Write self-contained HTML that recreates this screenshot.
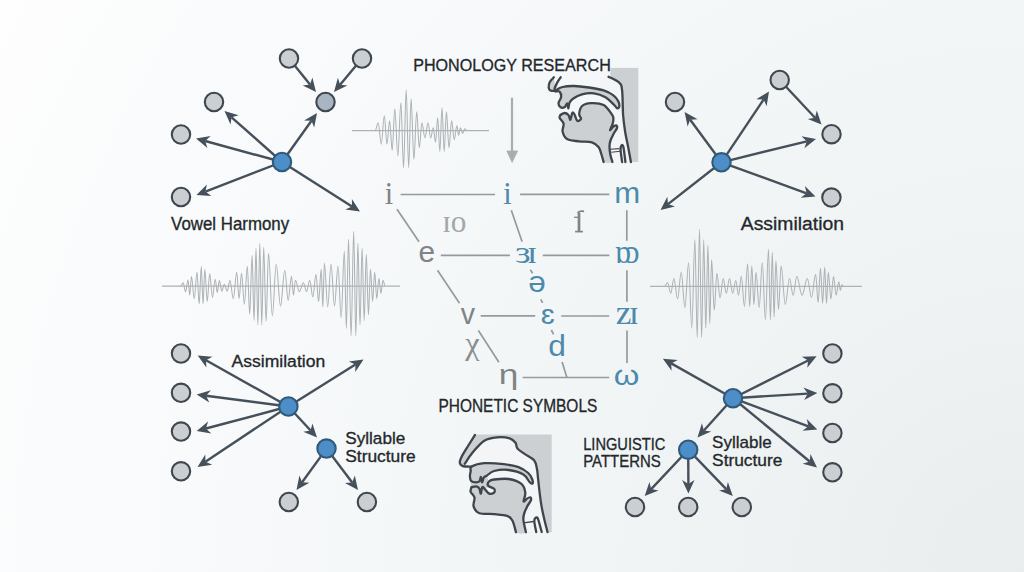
<!DOCTYPE html>
<html><head><meta charset="utf-8"><style>
html,body{margin:0;padding:0;width:1024px;height:572px;overflow:hidden}
body{background:radial-gradient(circle at 100% 100%,#e9edee 0px,#eef2f3 260px,#f3f6f7 540px,#f8fafb 860px,#fefefe 1180px)}
svg{position:absolute;left:0;top:0}
</style></head><body>
<svg width="1024" height="572" viewBox="0 0 1024 572">
<path d="M475.0,434.9 L468.0,446.0 L462.0,456.0 L459.8,462.5 L462.8,466.1 L471.6,466.6 L471.6,474.0 L470.0,480.0 L471.6,487.2 L471.6,487.2 L470.6,491.7 L474.5,497.5 L473.6,506.3 L479.4,513.2 L494.1,514.1 L507.7,516.1 L512.6,521.0 L516.0,532.2 L551.7,532.2 L551.7,434.4 L475.0,434.4 Z" fill="#ccd0d2"/>
<path d="M464.8,463.7 C465.0,461.3 469.4,456.3 472.6,452.5 C475.9,448.7 480.2,443.2 484.3,440.7 C488.4,438.2 492.8,437.7 497.0,437.3 C501.2,436.9 506.6,437.4 509.7,438.3 C512.8,439.2 514.2,441.0 515.5,442.7 C516.8,444.4 515.9,446.7 517.5,448.6 C519.1,450.6 522.5,452.4 525.3,454.4 C528.1,456.3 532.1,457.9 534.1,460.3 C536.1,462.8 536.4,466.2 537.0,469.1 C537.6,472.1 537.4,472.4 538.0,478.0 C538.6,483.6 539.9,495.7 540.9,502.4 C541.9,509.1 542.9,513.0 544.0,518.0 C545.1,523.0 550.6,529.8 547.6,532.2 C544.6,534.6 529.5,532.2 525.9,532.2 C522.3,532.2 526.3,534.2 525.9,532.2 C525.5,530.2 523.7,523.2 523.4,520.0 C523.1,516.8 523.6,515.5 524.3,513.2 C524.9,510.9 526.2,508.5 527.3,506.3 C528.4,504.1 530.4,501.8 530.9,500.3 C531.4,498.8 530.9,497.6 530.2,497.3 C529.6,497.0 528.1,497.9 527.0,498.6 C525.9,499.3 523.9,502.5 523.6,501.5 C523.3,500.5 525.7,495.5 525.3,492.6 C524.9,489.7 524.2,486.2 521.4,483.9 C518.6,481.6 513.2,479.7 508.7,479.0 C504.1,478.3 497.4,479.1 494.1,479.5 C490.8,479.9 490.4,482.1 489.0,481.5 C487.6,480.9 488.9,478.5 486.0,476.0 C483.1,473.5 475.1,468.7 471.6,466.6 C468.1,464.6 464.6,466.1 464.8,463.7 Z" fill="#f3f5f6"/>
<path d="M471.6,466.6 C473.9,465.3 478.9,463.6 484.3,463.2 C489.7,462.8 498.1,463.5 503.8,464.2 C509.5,464.9 514.4,465.6 518.5,467.1 C522.6,468.6 525.9,471.0 528.2,473.0 C530.5,475.0 531.4,477.2 532.1,479.0 C532.8,480.8 532.9,483.0 532.5,483.5 C532.1,484.0 531.0,483.5 529.5,482.0 C528.0,480.5 526.9,476.5 523.4,474.5 C519.9,472.5 513.6,470.6 508.7,470.0 C503.8,469.4 497.7,470.1 494.1,471.0 C490.5,471.9 488.7,474.4 487.0,475.5 C485.3,476.6 484.6,476.4 483.8,477.5 C483.0,478.6 482.6,482.5 482.1,482.4 C481.6,482.3 481.3,477.2 480.9,477.0 C480.5,476.8 480.3,480.3 479.5,481.2 C478.7,482.1 477.4,482.3 476.0,482.3 C474.6,482.3 472.2,482.0 471.2,481.0 C470.2,480.0 470.0,478.2 469.9,476.5 C469.8,474.8 470.4,472.6 470.7,471.0 C471.0,469.4 469.3,467.9 471.6,466.6 Z" fill="#ccd0d2" stroke="#3e454c" stroke-width="2.3" stroke-linejoin="round"/>
<path d="M471.6,487.2 C472.4,487.1 475.2,486.1 476.5,486.3 C477.8,486.6 478.7,487.5 479.4,488.7 C480.1,489.9 480.4,493.9 480.9,493.6 C481.4,493.3 481.6,487.6 482.3,487.0 C483.0,486.4 484.2,488.6 485.3,489.7 C486.4,490.8 487.7,493.1 489.2,493.6 C490.7,494.1 493.3,493.4 494.1,492.6 C494.9,491.8 495.1,489.8 494.1,488.7 C493.1,487.6 489.1,487.0 488.2,485.8 C487.3,484.6 488.0,482.6 489.0,481.5 C490.0,480.4 490.8,479.9 494.1,479.5 C497.4,479.1 504.1,478.3 508.7,479.0 C513.2,479.7 518.6,481.6 521.4,483.9 C524.2,486.2 524.9,489.7 525.3,492.6 C525.7,495.5 523.3,500.5 523.6,501.5 C523.9,502.5 525.9,499.3 527.0,498.6 C528.1,497.9 529.6,497.0 530.2,497.3 C530.9,497.6 531.4,498.8 530.9,500.3 C530.4,501.8 528.4,504.1 527.3,506.3 C526.2,508.5 524.9,510.9 524.3,513.2 C523.6,515.5 523.1,516.8 523.4,520.0 C523.7,523.2 527.1,530.2 525.9,532.2 C524.7,534.2 518.2,534.1 516.0,532.2 C513.8,530.3 514.0,523.7 512.6,521.0 C511.2,518.3 510.8,517.2 507.7,516.1 C504.6,515.0 498.8,514.6 494.1,514.1 C489.4,513.6 482.8,514.5 479.4,513.2 C476.0,511.9 474.4,508.9 473.6,506.3 C472.8,503.7 475.0,499.9 474.5,497.5 C474.0,495.1 471.1,493.4 470.6,491.7 C470.1,490.0 471.4,487.9 471.6,487.2 C471.8,486.4 470.8,487.3 471.6,487.2 Z" fill="#ccd0d2"/>
<path d="M486.3,489.5 C486.4,490.5 488.2,492.2 489.4,492.6 C490.6,493.0 492.7,492.2 493.3,491.6 C493.9,491.0 493.9,489.8 493.2,489.0 C492.4,488.2 489.9,486.7 488.8,486.8 C487.7,486.9 486.2,488.5 486.3,489.5 Z" fill="#f3f5f6"/>
<path d="M471.6,487.2 C472.4,487.1 475.2,486.1 476.5,486.3 C477.8,486.6 478.7,487.5 479.4,488.7 C480.1,489.9 480.4,493.9 480.9,493.6 C481.4,493.3 481.6,487.6 482.3,487.0 C483.0,486.4 484.2,488.6 485.3,489.7 C486.4,490.8 487.7,493.1 489.2,493.6 C490.7,494.1 493.3,493.4 494.1,492.6 C494.9,491.8 495.1,489.8 494.1,488.7 C493.1,487.6 489.1,487.0 488.2,485.8 C487.3,484.6 488.0,482.6 489.0,481.5 C490.0,480.4 490.8,479.9 494.1,479.5 C497.4,479.1 504.1,478.3 508.7,479.0 C513.2,479.7 518.6,481.6 521.4,483.9 C524.2,486.2 524.9,489.7 525.3,492.6 C525.7,495.5 523.3,500.5 523.6,501.5 C523.9,502.5 525.9,499.3 527.0,498.6 C528.1,497.9 529.6,497.0 530.2,497.3 C530.9,497.6 531.4,498.8 530.9,500.3 C530.4,501.8 528.4,504.1 527.3,506.3 C526.2,508.5 524.9,510.9 524.3,513.2 C523.6,515.5 523.1,516.8 523.4,520.0 C523.7,523.2 525.5,530.2 525.9,532.2" fill="none" stroke="#3e454c" stroke-width="2.3" stroke-linecap="round" stroke-linejoin="round"/>
<path d="M471.6,487.2 C471.4,487.9 470.1,490.0 470.6,491.7 C471.1,493.4 474.0,495.1 474.5,497.5 C475.0,499.9 472.8,503.7 473.6,506.3 C474.4,508.9 476.0,511.9 479.4,513.2 C482.8,514.5 489.4,513.6 494.1,514.1 C498.8,514.6 504.6,515.0 507.7,516.1 C510.8,517.2 511.2,518.3 512.6,521.0 C514.0,523.7 515.4,530.3 516.0,532.2" fill="none" stroke="#3e454c" stroke-width="2.3" stroke-linecap="round"/>
<path d="M475.0,434.9 C473.8,436.8 470.2,442.5 468.0,446.0 C465.8,449.5 463.4,453.2 462.0,456.0 C460.6,458.8 459.7,460.8 459.8,462.5 C459.9,464.2 460.8,465.4 462.8,466.1 C464.8,466.8 470.1,466.5 471.6,466.6" fill="none" stroke="#3e454c" stroke-width="2.3" stroke-linecap="round"/>
<path d="M464.8,463.7 C466.1,461.8 469.4,456.3 472.6,452.5 C475.9,448.7 480.2,443.2 484.3,440.7 C488.4,438.2 492.8,437.7 497.0,437.3 C501.2,436.9 506.6,437.4 509.7,438.3 C512.8,439.2 514.2,441.0 515.5,442.7 C516.8,444.4 515.9,446.7 517.5,448.6 C519.1,450.6 522.5,452.4 525.3,454.4 C528.1,456.3 532.1,457.9 534.1,460.3 C536.1,462.8 536.4,466.2 537.0,469.1 C537.6,472.1 537.4,472.4 538.0,478.0 C538.6,483.6 539.9,495.7 540.9,502.4 C541.9,509.1 542.9,513.0 544.0,518.0 C545.1,523.0 547.0,529.8 547.6,532.2" fill="none" stroke="#3e454c" stroke-width="2.3" stroke-linecap="round"/>
<path d="M523.6,522.9 L533.5,521.5" stroke="#3e454c" stroke-width="1.4" fill="none"/>
<path d="M536.2,532.0 C535.9,530.2 534.3,523.4 534.3,521.0 C534.2,518.6 535.3,517.9 535.9,517.6 C536.5,517.3 537.0,516.6 538.0,519.0 C539.0,521.4 541.1,529.8 541.7,532.0" fill="none" stroke="#3e454c" stroke-width="2.3" stroke-linecap="round"/>
<rect x="610.4" y="67.9" width="27.9" height="94.1" fill="#ccd0d2"/>
<path d="M608.5,76.7 L619.2,82.6 L622.1,90.4 L623.1,115.0 L625.1,131.5 L628.0,146.2 L630.9,162.0 L612.4,162.0 L612.4,162.0 L610.4,155.0 L609.5,146.2 L610.5,140.5 L613.5,134.0 L616.8,128.5 L616.5,125.5 L613.5,126.5 L610.0,130.0 L612.4,124.7 L613.4,117.9 L611.4,113.8 L603.6,105.0 L600.0,98.0 L600.0,76.7 Z" fill="#f3f5f6"/>
<path d="M555.0,91.0 C555.5,90.2 559.4,87.8 562.6,87.0 C565.8,86.2 569.9,85.9 574.3,86.0 C578.7,86.1 584.1,86.8 589.0,87.5 C593.9,88.2 599.5,89.1 603.6,90.4 C607.7,91.7 611.0,93.5 613.4,95.3 C615.8,97.1 617.2,99.3 618.2,101.1 C619.2,102.9 619.5,104.8 619.4,106.0 C619.2,107.2 618.3,108.6 617.3,108.3 C616.3,108.0 615.4,105.9 613.4,104.1 C611.4,102.2 608.7,99.0 605.5,97.2 C602.3,95.4 597.9,93.8 594.0,93.3 C590.1,92.8 585.5,93.4 582.0,94.3 C578.5,95.2 575.4,97.0 573.3,98.5 C571.2,100.0 570.2,101.4 569.4,103.0 C568.6,104.6 568.8,108.2 568.4,108.3 C568.0,108.4 567.9,103.7 567.3,103.5 C566.6,103.3 565.6,106.7 564.5,107.3 C563.4,107.9 561.6,108.0 560.6,107.3 C559.6,106.6 558.4,104.8 558.5,103.1 C558.6,101.4 560.9,99.1 561.1,97.2 C561.3,95.3 560.6,92.6 559.6,91.6 C558.6,90.6 554.5,91.8 555.0,91.0 Z" fill="#ccd0d2" stroke="#3e454c" stroke-width="2.3" stroke-linejoin="round"/>
<path d="M553.9,77.3 C553.2,78.1 550.7,80.3 549.8,82.0 C548.9,83.7 548.6,86.2 548.7,87.6 C548.8,89.0 549.3,89.8 550.4,90.4 C551.5,91.0 554.6,90.9 555.5,91.0 L560.7,77.3 C560.1,78.2 558.2,80.6 557.2,82.5 C556.2,84.4 554.9,87.2 554.6,88.6 C554.3,90.0 555.4,90.6 555.5,91.0 Z" fill="#ccd0d2"/>
<path d="M553.9,77.3 C553.2,78.1 550.7,80.3 549.8,82.0 C548.9,83.7 548.6,86.2 548.7,87.6 C548.8,89.0 549.3,89.8 550.4,90.4 C551.5,91.0 554.6,90.9 555.5,91.0" fill="none" stroke="#3e454c" stroke-width="2.3" stroke-linecap="round"/>
<path d="M560.7,77.3 C560.1,78.2 558.2,80.6 557.2,82.5 C556.2,84.4 554.9,87.2 554.6,88.6 C554.3,90.0 555.4,90.6 555.5,91.0" fill="none" stroke="#3e454c" stroke-width="2.3" stroke-linecap="round"/>
<path d="M560.6,114.9 C561.2,114.6 563.2,113.0 564.5,113.0 C565.8,113.0 567.4,113.8 568.4,114.9 C569.4,116.0 569.8,120.1 570.4,119.8 C571.0,119.5 571.6,114.0 572.3,113.0 C572.9,112.0 573.5,112.7 574.3,114.0 C575.1,115.3 576.1,120.0 577.2,120.8 C578.3,121.6 580.8,119.9 581.1,118.8 C581.4,117.7 579.0,116.1 579.2,114.0 C579.4,111.9 580.2,107.8 582.1,106.0 C584.0,104.2 587.3,103.3 590.9,103.1 C594.5,102.9 600.2,103.2 603.6,105.0 C607.0,106.8 609.8,111.6 611.4,113.8 C613.0,116.0 613.2,116.1 613.4,117.9 C613.6,119.7 613.0,122.7 612.4,124.7 C611.8,126.7 609.8,129.7 610.0,130.0 C610.2,130.3 612.4,127.2 613.5,126.5 C614.6,125.8 616.0,125.2 616.5,125.5 C617.0,125.8 617.3,127.1 616.8,128.5 C616.3,129.9 614.5,132.0 613.5,134.0 C612.5,136.0 611.2,138.5 610.5,140.5 C609.8,142.5 609.5,143.8 609.5,146.2 C609.5,148.6 609.9,152.4 610.4,155.0 C610.9,157.6 613.5,160.8 612.4,162.0 C611.3,163.2 605.4,163.2 603.6,162.0 C601.8,160.8 602.4,157.5 601.6,155.0 C600.8,152.5 600.3,149.3 598.7,147.2 C597.1,145.1 595.1,143.3 591.9,142.3 C588.6,141.3 583.3,141.8 579.2,141.3 C575.1,140.8 570.3,140.9 567.5,139.3 C564.7,137.7 563.2,134.1 562.6,131.5 C562.0,128.9 564.1,126.0 563.6,123.7 C563.1,121.4 560.1,119.4 559.6,117.9 C559.1,116.4 560.4,115.4 560.6,114.9 C560.8,114.4 560.0,115.2 560.6,114.9 Z" fill="#ccd0d2"/>
<path d="M575.3,115.0 C575.1,115.7 576.8,119.2 577.6,119.8 C578.5,120.4 580.2,119.3 580.4,118.6 C580.6,117.9 579.9,116.1 579.0,115.5 C578.1,114.9 575.5,114.3 575.3,115.0 Z" fill="#f3f5f6"/>
<path d="M560.6,114.9 C561.2,114.6 563.2,113.0 564.5,113.0 C565.8,113.0 567.4,113.8 568.4,114.9 C569.4,116.0 569.8,120.1 570.4,119.8 C571.0,119.5 571.6,114.0 572.3,113.0 C572.9,112.0 573.5,112.7 574.3,114.0 C575.1,115.3 576.1,120.0 577.2,120.8 C578.3,121.6 580.8,119.9 581.1,118.8 C581.4,117.7 579.0,116.1 579.2,114.0 C579.4,111.9 580.2,107.8 582.1,106.0 C584.0,104.2 587.3,103.3 590.9,103.1 C594.5,102.9 600.2,103.2 603.6,105.0 C607.0,106.8 609.8,111.6 611.4,113.8 C613.0,116.0 613.2,116.1 613.4,117.9 C613.6,119.7 613.0,122.7 612.4,124.7 C611.8,126.7 609.8,129.7 610.0,130.0 C610.2,130.3 612.4,127.2 613.5,126.5 C614.6,125.8 616.0,125.2 616.5,125.5 C617.0,125.8 617.3,127.1 616.8,128.5 C616.3,129.9 614.5,132.0 613.5,134.0 C612.5,136.0 611.2,138.5 610.5,140.5 C609.8,142.5 609.5,143.8 609.5,146.2 C609.5,148.6 609.9,152.4 610.4,155.0 C610.9,157.6 612.1,160.8 612.4,162.0" fill="none" stroke="#3e454c" stroke-width="2.3" stroke-linecap="round" stroke-linejoin="round"/>
<path d="M560.6,114.9 C560.4,115.4 559.1,116.4 559.6,117.9 C560.1,119.4 563.1,121.4 563.6,123.7 C564.1,126.0 562.0,128.9 562.6,131.5 C563.2,134.1 564.7,137.7 567.5,139.3 C570.3,140.9 575.1,140.8 579.2,141.3 C583.3,141.8 588.6,141.3 591.9,142.3 C595.1,143.3 597.1,145.1 598.7,147.2 C600.3,149.3 600.8,152.5 601.6,155.0 C602.4,157.5 603.3,160.8 603.6,162.0" fill="none" stroke="#3e454c" stroke-width="2.3" stroke-linecap="round"/>
<path d="M608.5,76.7 C610.3,77.7 616.9,80.3 619.2,82.6 C621.5,84.9 621.5,85.0 622.1,90.4 C622.8,95.8 622.6,108.2 623.1,115.0 C623.6,121.8 624.3,126.3 625.1,131.5 C625.9,136.7 627.0,141.1 628.0,146.2 C629.0,151.3 630.4,159.4 630.9,162.0" fill="none" stroke="#3e454c" stroke-width="2.3" stroke-linecap="round"/>
<path d="M610.6,149.3 L619.4,148.6 M611.4,152.2 L620.2,151.2" stroke="#3e454c" stroke-width="1.1" fill="none"/>
<path d="M622.1,162.0 C621.9,160.0 620.7,152.8 620.6,150.0 C620.5,147.2 621.1,145.9 621.6,145.4 C622.1,144.9 622.8,144.2 623.4,147.0 C624.0,149.8 625.1,159.5 625.4,162.0" fill="none" stroke="#3e454c" stroke-width="2.3" stroke-linecap="round"/>
<line x1="352" y1="130.7" x2="489" y2="130.7" stroke="#aeb2b5" stroke-width="1.3"/>
<path d="M375.15,130.70 C376.25,130.70 377.10,122.70 378.20,122.70 C379.30,122.70 380.15,144.20 381.25,144.20 C382.35,144.20 383.20,115.70 384.30,115.70 C385.25,115.70 386.00,144.20 386.95,144.20 C387.90,144.20 388.65,120.70 389.60,120.70 C390.54,120.70 391.26,150.50 392.20,150.50 C393.14,150.50 393.86,108.70 394.80,108.70 C395.90,108.70 396.75,155.90 397.85,155.90 C398.95,155.90 399.80,102.70 400.90,102.70 C401.85,102.70 402.60,167.60 403.55,167.60 C404.50,167.60 405.25,89.70 406.20,89.70 C407.08,89.70 407.77,167.60 408.65,167.60 C409.53,167.60 410.22,98.70 411.10,98.70 C412.11,98.70 412.89,159.50 413.90,159.50 C414.91,159.50 415.69,111.70 416.70,111.70 C417.64,111.70 418.36,147.80 419.30,147.80 C420.24,147.80 420.96,122.70 421.90,122.70 C423.00,122.70 423.85,137.90 424.95,137.90 C426.05,137.90 426.90,122.70 428.00,122.70 C428.95,122.70 429.70,137.90 430.65,137.90 C431.60,137.90 432.35,127.70 433.30,127.70 C434.09,127.70 434.71,142.40 435.50,142.40 C436.29,142.40 436.91,117.70 437.70,117.70 C438.47,117.70 439.08,151.40 439.85,151.40 C440.62,151.40 441.23,107.70 442.00,107.70 C442.79,107.70 443.41,151.40 444.20,151.40 C444.99,151.40 445.61,111.70 446.40,111.70 C447.34,111.70 448.06,147.80 449.00,147.80 C449.94,147.80 450.66,120.70 451.60,120.70 C452.55,120.70 453.30,139.70 454.25,139.70 C455.20,139.70 455.95,125.70 456.90,125.70 C457.53,125.70 458.02,135.20 458.65,135.20 C459.28,135.20 459.77,127.70 460.40,127.70 C461.19,127.70 461.81,133.40 462.60,133.40 C463.39,133.40 464.01,128.70 464.80,128.70 C465.59,128.70 466.21,130.70 467.00,130.70" fill="none" stroke="#aeb2b5" stroke-width="1.05"/>
<line x1="162" y1="286.2" x2="400" y2="286.2" stroke="#aeb2b5" stroke-width="1.3"/>
<path d="M180.65,286.20 C181.53,286.20 182.22,282.70 183.10,282.70 C183.98,282.70 184.67,291.87 185.55,291.87 C186.43,291.87 187.12,279.90 188.00,279.90 C188.63,279.90 189.12,295.02 189.75,295.02 C190.38,295.02 190.87,276.40 191.50,276.40 C192.49,276.40 193.26,298.80 194.25,298.80 C195.24,298.80 196.01,272.20 197.00,272.20 C197.77,272.20 198.38,303.84 199.15,303.84 C199.92,303.84 200.53,266.60 201.30,266.60 C201.93,266.60 202.42,303.84 203.05,303.84 C203.68,303.84 204.17,269.40 204.80,269.40 C205.68,269.40 206.37,301.32 207.25,301.32 C208.13,301.32 208.82,273.60 209.70,273.60 C210.69,273.60 211.46,297.54 212.45,297.54 C213.44,297.54 214.21,279.20 215.20,279.20 C215.96,279.20 216.54,292.50 217.30,292.50 C218.06,292.50 218.64,280.60 219.40,280.60 C220.28,280.60 220.97,291.24 221.85,291.24 C222.73,291.24 223.42,284.20 224.30,284.20 C225.33,284.20 226.12,291.24 227.15,291.24 C228.18,291.24 228.97,280.60 230.00,280.60 C231.21,280.60 232.14,298.80 233.35,298.80 C234.56,298.80 235.49,272.20 236.70,272.20 C237.56,272.20 238.24,298.80 239.10,298.80 C239.96,298.80 240.64,273.20 241.50,273.20 C242.54,273.20 243.36,304.20 244.40,304.20 C245.44,304.20 246.26,266.20 247.30,266.20 C248.16,266.20 248.84,314.10 249.70,314.10 C250.56,314.10 251.24,255.20 252.10,255.20 C252.80,255.20 253.35,320.40 254.05,320.40 C254.75,320.40 255.30,248.20 256.00,248.20 C256.68,248.20 257.22,324.90 257.90,324.90 C258.58,324.90 259.12,243.20 259.80,243.20 C260.50,243.20 261.05,324.90 261.75,324.90 C262.45,324.90 263.00,247.20 263.70,247.20 C264.56,247.20 265.24,321.30 266.10,321.30 C266.96,321.30 267.64,253.20 268.50,253.20 C269.89,253.20 270.96,315.90 272.35,315.90 C273.74,315.90 274.81,264.20 276.20,264.20 C277.75,264.20 278.95,306.00 280.50,306.00 C282.05,306.00 283.25,270.20 284.80,270.20 C286.01,270.20 286.94,300.60 288.15,300.60 C289.36,300.60 290.29,276.20 291.50,276.20 C292.20,276.20 292.75,295.20 293.45,295.20 C294.15,295.20 294.70,280.20 295.40,280.20 C296.84,280.20 297.96,291.60 299.40,291.60 C300.84,291.60 301.96,282.70 303.40,282.70 C304.53,282.70 305.42,291.60 306.55,291.60 C307.68,291.60 308.57,280.20 309.70,280.20 C310.83,280.20 311.72,297.00 312.85,297.00 C313.98,297.00 314.87,274.20 316.00,274.20 C316.94,274.20 317.66,301.50 318.60,301.50 C319.54,301.50 320.26,269.20 321.20,269.20 C321.78,269.20 322.22,306.90 322.80,306.90 C323.38,306.90 323.82,263.20 324.40,263.20 C325.59,263.20 326.51,306.90 327.70,306.90 C328.89,306.90 329.81,264.20 331.00,264.20 C332.26,264.20 333.24,306.00 334.50,306.00 C335.76,306.00 336.74,266.20 338.00,266.20 C339.13,266.20 340.02,317.70 341.15,317.70 C342.28,317.70 343.17,251.20 344.30,251.20 C345.06,251.20 345.64,328.50 346.40,328.50 C347.16,328.50 347.74,239.20 348.50,239.20 C349.44,239.20 350.16,335.70 351.10,335.70 C352.04,335.70 352.76,231.20 353.70,231.20 C354.46,231.20 355.04,335.70 355.80,335.70 C356.56,335.70 357.14,243.20 357.90,243.20 C358.66,243.20 359.24,324.90 360.00,324.90 C360.76,324.90 361.34,248.20 362.10,248.20 C362.86,248.20 363.44,320.40 364.20,320.40 C364.96,320.40 365.54,254.20 366.30,254.20 C367.06,254.20 367.64,315.00 368.40,315.00 C369.16,315.00 369.74,269.20 370.50,269.20 C371.26,269.20 371.84,301.50 372.60,301.50 C373.36,301.50 373.94,272.20 374.70,272.20 C375.46,272.20 376.04,298.80 376.80,298.80 C377.56,298.80 378.14,278.20 378.90,278.20 C379.64,278.20 380.21,293.40 380.95,293.40 C381.69,293.40 382.26,280.20 383.00,280.20 C383.74,280.20 384.31,286.20 385.05,286.20" fill="none" stroke="#aeb2b5" stroke-width="1.05"/>
<line x1="650" y1="286.3" x2="862" y2="286.3" stroke="#aeb2b5" stroke-width="1.3"/>
<path d="M664.45,286.30 C665.58,286.30 666.47,282.70 667.60,282.70 C668.73,282.70 669.62,293.32 670.75,293.32 C671.88,293.32 672.77,278.50 673.90,278.50 C675.21,278.50 676.24,298.90 677.55,298.90 C678.86,298.90 679.89,272.30 681.20,272.30 C682.53,272.30 683.57,307.45 684.90,307.45 C686.23,307.45 687.27,262.80 688.60,262.80 C689.73,262.80 690.62,328.24 691.75,328.24 C692.88,328.24 693.77,239.70 694.90,239.70 C695.73,239.70 696.37,337.60 697.20,337.60 C698.03,337.60 698.67,229.30 699.50,229.30 C700.26,229.30 700.84,337.60 701.60,337.60 C702.36,337.60 702.94,239.70 703.70,239.70 C704.46,239.70 705.04,328.24 705.80,328.24 C706.56,328.24 707.14,245.00 707.90,245.00 C708.57,245.00 709.08,323.47 709.75,323.47 C710.42,323.47 710.93,259.70 711.60,259.70 C712.55,259.70 713.30,310.24 714.25,310.24 C715.20,310.24 715.95,273.30 716.90,273.30 C718.03,273.30 718.92,298.00 720.05,298.00 C721.18,298.00 722.07,278.50 723.20,278.50 C724.33,278.50 725.22,293.32 726.35,293.32 C727.48,293.32 728.37,278.50 729.50,278.50 C730.63,278.50 731.52,293.32 732.65,293.32 C733.78,293.32 734.67,280.60 735.80,280.60 C736.79,280.60 737.56,295.30 738.55,295.30 C739.54,295.30 740.31,276.30 741.30,276.30 C742.43,276.30 743.32,306.46 744.45,306.46 C745.58,306.46 746.47,263.90 747.60,263.90 C748.36,263.90 748.94,306.46 749.70,306.46 C750.46,306.46 751.04,266.00 751.80,266.00 C752.56,266.00 753.14,304.57 753.90,304.57 C754.66,304.57 755.24,272.30 756.00,272.30 C757.13,272.30 758.02,307.45 759.15,307.45 C760.28,307.45 761.17,262.80 762.30,262.80 C763.42,262.80 764.28,319.60 765.40,319.60 C766.52,319.60 767.38,249.30 768.50,249.30 C769.18,249.30 769.72,319.60 770.40,319.60 C771.08,319.60 771.62,252.30 772.30,252.30 C772.95,252.30 773.45,316.90 774.10,316.90 C774.75,316.90 775.25,260.70 775.90,260.70 C776.84,260.70 777.56,309.34 778.50,309.34 C779.44,309.34 780.16,266.00 781.10,266.00 C782.61,266.00 783.79,304.57 785.30,304.57 C786.81,304.57 787.99,278.50 789.50,278.50 C790.81,278.50 791.84,295.12 793.15,295.12 C794.46,295.12 795.49,276.50 796.80,276.50 C798.69,276.50 800.16,295.12 802.05,295.12 C803.94,295.12 805.41,278.50 807.30,278.50 C808.81,278.50 809.99,297.10 811.50,297.10 C813.01,297.10 814.19,274.30 815.70,274.30 C816.56,274.30 817.24,302.50 818.10,302.50 C818.96,302.50 819.64,268.30 820.50,268.30 C821.26,268.30 821.84,303.40 822.60,303.40 C823.36,303.40 823.94,267.30 824.70,267.30 C825.35,267.30 825.85,303.40 826.50,303.40 C827.15,303.40 827.65,272.30 828.30,272.30 C829.24,272.30 829.96,298.90 830.90,298.90 C831.84,298.90 832.56,276.50 833.50,276.50 C834.45,276.50 835.20,295.12 836.15,295.12 C837.10,295.12 837.85,281.70 838.80,281.70 C839.36,281.70 839.79,290.44 840.35,290.44 C840.91,290.44 841.34,284.80 841.90,284.80 C842.46,284.80 842.89,286.30 843.45,286.30" fill="none" stroke="#aeb2b5" stroke-width="1.05"/>
<line x1="512" y1="97.7" x2="512" y2="155" stroke="#a9adb1" stroke-width="2.2"/>
<path d="M506.8,151 L517.6,151 L512.1,162.3 Z" fill="#a9adb1" stroke="#a9adb1" stroke-width="0.8" stroke-linejoin="round"/>
<line x1="400.6" y1="194.5" x2="495" y2="194.5" stroke="#959a9e" stroke-width="1.7"/>
<line x1="520.1" y1="194.3" x2="609.3" y2="194.3" stroke="#959a9e" stroke-width="1.7"/>
<line x1="397" y1="209.3" x2="419" y2="241.7" stroke="#959a9e" stroke-width="1.7"/>
<line x1="511.3" y1="210.2" x2="522.1" y2="241.7" stroke="#959a9e" stroke-width="1.7"/>
<line x1="626.8" y1="210.2" x2="626.8" y2="240.8" stroke="#959a9e" stroke-width="1.7"/>
<line x1="440.8" y1="255.3" x2="509.9" y2="255.3" stroke="#959a9e" stroke-width="1.7"/>
<line x1="542.8" y1="255.3" x2="609.3" y2="255.3" stroke="#959a9e" stroke-width="1.7"/>
<line x1="437.5" y1="270.2" x2="459.5" y2="303.2" stroke="#959a9e" stroke-width="1.7"/>
<line x1="626.9" y1="270.3" x2="626.9" y2="301.7" stroke="#959a9e" stroke-width="1.7"/>
<line x1="480.7" y1="315.8" x2="535.2" y2="315.8" stroke="#959a9e" stroke-width="1.7"/>
<line x1="561.2" y1="316" x2="609.2" y2="316" stroke="#959a9e" stroke-width="1.7"/>
<line x1="627" y1="330.4" x2="627" y2="363" stroke="#959a9e" stroke-width="1.7"/>
<line x1="478.4" y1="330.5" x2="498.9" y2="362.3" stroke="#959a9e" stroke-width="1.7"/>
<line x1="522.7" y1="377.5" x2="609.2" y2="377.5" stroke="#959a9e" stroke-width="1.7"/>
<line x1="562.1" y1="362.1" x2="566.9" y2="377.5" stroke="#959a9e" stroke-width="1.7"/>
<line x1="530.3" y1="269.7" x2="532.6" y2="273.2" stroke="#959a9e" stroke-width="1.7"/>
<line x1="540.8" y1="299.4" x2="542.6" y2="302.9" stroke="#959a9e" stroke-width="1.7"/>
<line x1="551.3" y1="330" x2="553.6" y2="334.3" stroke="#959a9e" stroke-width="1.7"/>
<text transform="translate(384.79,203.60) scale(0.943,1)" font-family="Liberation Serif" font-size="32.26" fill="#7f8386">i</text>
<text transform="translate(503.29,203.60) scale(0.943,1)" font-family="Liberation Serif" font-size="32.26" fill="#4c8aab">i</text>
<text transform="translate(614.22,203.20) scale(1.065,1)" font-family="Liberation Sans" font-size="29.25" fill="#4c8aab">m</text>
<text transform="translate(442.15,231.69) scale(1.015,1)" font-family="Liberation Serif" font-size="30.83" fill="#a3a7aa">ɪo</text>
<g transform="translate(1.5,0)"><path d="M577.5,212.6 V231.2" stroke="#808487" stroke-width="2.7"/><path d="M576.4,213.2 Q577.2,210.6 582.6,211.4" stroke="#808487" stroke-width="1.8" fill="none"/><path d="M572.6,217.3 H577" stroke="#808487" stroke-width="1.3"/><path d="M573.6,231.6 H581.4" stroke="#808487" stroke-width="1.7"/></g>
<text transform="translate(418.51,262.41) scale(1.031,1)" font-family="Liberation Sans" font-size="28.90" fill="#7f8386">e</text>
<text transform="translate(515.29,263.18) scale(1.141,1)" font-family="Liberation Serif" font-size="32.29" fill="#4c8aab" letter-spacing="-3.23">ɜɪ</text>
<text transform="translate(614.77,263.37) scale(0.947,1)" font-family="Liberation Serif" font-size="32.71" fill="#4c8aab" letter-spacing="-5.45">ɒɔ</text>
<text transform="translate(528.14,292.10) scale(1.037,1)" font-family="Liberation Sans" font-size="30.37" fill="#4c8aab">ə</text>
<text transform="translate(460.80,323.60) scale(0.953,1)" font-family="Liberation Sans" font-size="30.00" fill="#7f8386">v</text>
<text transform="translate(540.68,323.53) scale(1.127,1)" font-family="Liberation Sans" font-size="27.07" fill="#4c8aab">ɛ</text>
<text transform="translate(615.66,324.10) scale(1.054,1)" font-family="Liberation Serif" font-size="33.48" fill="#4c8aab" letter-spacing="-2.23">zɪ</text>
<text transform="translate(465.20,354.05) scale(1.035,1)" font-family="Liberation Serif" font-size="31.19" fill="#8a8e91">χ</text>
<text transform="translate(548.33,356.01) scale(1.104,1)" font-family="Liberation Sans" font-size="28.77" fill="#4c8aab">d</text>
<text transform="translate(498.72,384.38) scale(1.298,1)" font-family="Liberation Sans" font-size="27.17" fill="#7f8386">η</text>
<text transform="translate(613.69,384.92) scale(1.173,1)" font-family="Liberation Sans" font-size="28.00" fill="#4c8aab">ω</text>
<line x1="282.0" y1="162.0" x2="231.6" y2="117.3" stroke="#46505a" stroke-width="2.4"/>
<path d="M224.5,111.0 L238.7,115.3 L231.6,117.3 L230.5,124.6 Z" fill="#46505a"/>
<line x1="282.0" y1="162.0" x2="205.2" y2="141.0" stroke="#46505a" stroke-width="2.4"/>
<path d="M196.0,138.5 L210.7,136.1 L205.2,141.0 L207.4,148.0 Z" fill="#46505a"/>
<line x1="282.0" y1="162.0" x2="205.4" y2="191.6" stroke="#46505a" stroke-width="2.4"/>
<path d="M196.5,195.0 L206.9,184.4 L205.4,191.6 L211.3,195.9 Z" fill="#46505a"/>
<line x1="282.0" y1="162.0" x2="311.5" y2="120.7" stroke="#46505a" stroke-width="2.4"/>
<path d="M317.0,113.0 L314.2,127.6 L311.5,120.7 L304.1,120.4 Z" fill="#46505a"/>
<line x1="282.0" y1="162.0" x2="352.0" y2="206.4" stroke="#46505a" stroke-width="2.4"/>
<path d="M360.0,211.5 L345.3,209.5 L352.0,206.4 L351.9,199.0 Z" fill="#46505a"/>
<line x1="289.0" y1="58.5" x2="310.0" y2="84.6" stroke="#46505a" stroke-width="2.4"/>
<path d="M316.0,92.0 L302.7,85.4 L310.0,84.6 L312.4,77.6 Z" fill="#46505a"/>
<line x1="362.0" y1="58.5" x2="340.1" y2="84.7" stroke="#46505a" stroke-width="2.4"/>
<path d="M334.0,92.0 L337.9,77.7 L340.1,84.7 L347.4,85.6 Z" fill="#46505a"/>
<circle cx="289.0" cy="58.5" r="9.2" fill="#cbcfd2" stroke="#3e4750" stroke-width="2.1"/>
<circle cx="362.0" cy="58.5" r="9.2" fill="#cbcfd2" stroke="#3e4750" stroke-width="2.1"/>
<circle cx="214.0" cy="102.0" r="9.2" fill="#cbcfd2" stroke="#3e4750" stroke-width="2.1"/>
<circle cx="181.0" cy="134.5" r="9.2" fill="#cbcfd2" stroke="#3e4750" stroke-width="2.1"/>
<circle cx="181.0" cy="197.0" r="9.2" fill="#cbcfd2" stroke="#3e4750" stroke-width="2.1"/>
<circle cx="325.5" cy="102.0" r="9.2" fill="#a9b6c2" stroke="#3e4750" stroke-width="2.1"/>
<circle cx="282.0" cy="162.0" r="9.2" fill="#4d8ec8" stroke="#2f5a7a" stroke-width="2.1"/>
<line x1="721.5" y1="162.3" x2="668.0" y2="204.1" stroke="#46505a" stroke-width="2.4"/>
<path d="M660.5,210.0 L667.3,196.8 L668.0,204.1 L675.0,206.6 Z" fill="#46505a"/>
<line x1="721.5" y1="162.3" x2="690.2" y2="119.7" stroke="#46505a" stroke-width="2.4"/>
<path d="M684.6,112.0 L697.6,119.2 L690.2,119.7 L687.6,126.6 Z" fill="#46505a"/>
<line x1="721.5" y1="162.3" x2="763.7" y2="99.4" stroke="#46505a" stroke-width="2.4"/>
<path d="M769.0,91.5 L766.6,106.2 L763.7,99.4 L756.3,99.3 Z" fill="#46505a"/>
<line x1="721.5" y1="162.3" x2="806.8" y2="141.3" stroke="#46505a" stroke-width="2.4"/>
<path d="M816.0,139.0 L804.4,148.3 L806.8,141.3 L801.4,136.2 Z" fill="#46505a"/>
<line x1="721.5" y1="162.3" x2="806.6" y2="193.3" stroke="#46505a" stroke-width="2.4"/>
<path d="M815.5,196.5 L800.7,197.7 L806.6,193.3 L804.9,186.1 Z" fill="#46505a"/>
<line x1="779.7" y1="80.0" x2="815.0" y2="117.7" stroke="#46505a" stroke-width="2.4"/>
<path d="M821.5,124.6 L807.7,119.0 L815.0,117.7 L816.8,110.5 Z" fill="#46505a"/>
<circle cx="675.0" cy="102.0" r="9.2" fill="#cbcfd2" stroke="#3e4750" stroke-width="2.1"/>
<circle cx="779.7" cy="80.0" r="9.2" fill="#cbcfd2" stroke="#3e4750" stroke-width="2.1"/>
<circle cx="831.5" cy="134.2" r="9.2" fill="#cbcfd2" stroke="#3e4750" stroke-width="2.1"/>
<circle cx="831.4" cy="197.6" r="9.2" fill="#cbcfd2" stroke="#3e4750" stroke-width="2.1"/>
<circle cx="721.5" cy="162.3" r="9.2" fill="#4d8ec8" stroke="#2f5a7a" stroke-width="2.1"/>
<line x1="288.4" y1="406.5" x2="355.4" y2="364.5" stroke="#46505a" stroke-width="2.4"/>
<path d="M363.5,359.5 L355.3,371.9 L355.4,364.5 L348.8,361.4 Z" fill="#46505a"/>
<line x1="288.4" y1="406.5" x2="206.0" y2="360.2" stroke="#46505a" stroke-width="2.4"/>
<path d="M197.7,355.5 L212.5,356.7 L206.0,360.2 L206.4,367.5 Z" fill="#46505a"/>
<line x1="288.4" y1="406.5" x2="206.1" y2="395.8" stroke="#46505a" stroke-width="2.4"/>
<path d="M196.7,394.6 L210.9,390.2 L206.1,395.8 L209.3,402.5 Z" fill="#46505a"/>
<line x1="288.4" y1="406.5" x2="205.9" y2="428.5" stroke="#46505a" stroke-width="2.4"/>
<path d="M196.7,431.0 L208.1,421.5 L205.9,428.5 L211.3,433.5 Z" fill="#46505a"/>
<line x1="288.4" y1="406.5" x2="205.4" y2="461.7" stroke="#46505a" stroke-width="2.4"/>
<path d="M197.5,467.0 L205.3,454.4 L205.4,461.7 L212.2,464.7 Z" fill="#46505a"/>
<line x1="288.4" y1="406.5" x2="310.6" y2="430.5" stroke="#46505a" stroke-width="2.4"/>
<path d="M317.0,437.5 L303.3,431.8 L310.6,430.5 L312.4,423.4 Z" fill="#46505a"/>
<line x1="326.5" y1="448.6" x2="302.1" y2="482.3" stroke="#46505a" stroke-width="2.4"/>
<path d="M296.5,490.0 L299.4,475.4 L302.1,482.3 L309.4,482.7 Z" fill="#46505a"/>
<line x1="326.5" y1="448.6" x2="352.2" y2="482.4" stroke="#46505a" stroke-width="2.4"/>
<path d="M358.0,490.0 L344.9,483.0 L352.2,482.4 L354.8,475.5 Z" fill="#46505a"/>
<circle cx="181.0" cy="353.5" r="9.2" fill="#cbcfd2" stroke="#3e4750" stroke-width="2.1"/>
<circle cx="181.0" cy="392.8" r="9.2" fill="#cbcfd2" stroke="#3e4750" stroke-width="2.1"/>
<circle cx="181.0" cy="431.6" r="9.2" fill="#cbcfd2" stroke="#3e4750" stroke-width="2.1"/>
<circle cx="181.0" cy="471.3" r="9.2" fill="#cbcfd2" stroke="#3e4750" stroke-width="2.1"/>
<circle cx="288.8" cy="502.0" r="9.2" fill="#cbcfd2" stroke="#3e4750" stroke-width="2.1"/>
<circle cx="366.9" cy="502.0" r="9.2" fill="#cbcfd2" stroke="#3e4750" stroke-width="2.1"/>
<circle cx="288.4" cy="406.5" r="9.2" fill="#4d8ec8" stroke="#2f5a7a" stroke-width="2.1"/>
<circle cx="326.5" cy="448.6" r="9.2" fill="#4d8ec8" stroke="#2f5a7a" stroke-width="2.1"/>
<line x1="733.0" y1="398.2" x2="671.2" y2="363.4" stroke="#46505a" stroke-width="2.4"/>
<path d="M662.9,358.7 L677.7,359.9 L671.2,363.4 L671.6,370.7 Z" fill="#46505a"/>
<line x1="733.0" y1="398.2" x2="808.1" y2="360.5" stroke="#46505a" stroke-width="2.4"/>
<path d="M816.6,356.2 L807.3,367.8 L808.1,360.5 L801.8,356.7 Z" fill="#46505a"/>
<line x1="733.0" y1="398.2" x2="807.8" y2="393.6" stroke="#46505a" stroke-width="2.4"/>
<path d="M817.3,393.0 L804.2,400.0 L807.8,393.6 L803.4,387.6 Z" fill="#46505a"/>
<line x1="733.0" y1="398.2" x2="808.4" y2="426.3" stroke="#46505a" stroke-width="2.4"/>
<path d="M817.3,429.6 L802.5,430.7 L808.4,426.3 L806.8,419.1 Z" fill="#46505a"/>
<line x1="733.0" y1="398.2" x2="809.7" y2="461.5" stroke="#46505a" stroke-width="2.4"/>
<path d="M817.0,467.5 L802.6,463.7 L809.7,461.5 L810.5,454.1 Z" fill="#46505a"/>
<line x1="733.0" y1="398.2" x2="703.9" y2="430.5" stroke="#46505a" stroke-width="2.4"/>
<path d="M697.5,437.5 L701.9,423.3 L703.9,430.5 L711.2,431.6 Z" fill="#46505a"/>
<line x1="688.2" y1="449.7" x2="651.2" y2="489.1" stroke="#46505a" stroke-width="2.4"/>
<path d="M644.7,496.0 L649.4,481.9 L651.2,489.1 L658.5,490.4 Z" fill="#46505a"/>
<line x1="688.2" y1="449.7" x2="688.4" y2="484.0" stroke="#46505a" stroke-width="2.4"/>
<path d="M688.4,493.5 L682.1,480.0 L688.4,484.0 L694.5,480.0 Z" fill="#46505a"/>
<line x1="688.2" y1="449.7" x2="726.2" y2="489.2" stroke="#46505a" stroke-width="2.4"/>
<path d="M732.8,496.0 L719.0,490.6 L726.2,489.2 L727.9,482.0 Z" fill="#46505a"/>
<circle cx="832.4" cy="353.5" r="9.2" fill="#cbcfd2" stroke="#3e4750" stroke-width="2.1"/>
<circle cx="832.4" cy="393.3" r="9.2" fill="#cbcfd2" stroke="#3e4750" stroke-width="2.1"/>
<circle cx="832.4" cy="433.0" r="9.2" fill="#cbcfd2" stroke="#3e4750" stroke-width="2.1"/>
<circle cx="832.4" cy="472.3" r="9.2" fill="#cbcfd2" stroke="#3e4750" stroke-width="2.1"/>
<circle cx="635.0" cy="507.0" r="9.2" fill="#cbcfd2" stroke="#3e4750" stroke-width="2.1"/>
<circle cx="688.2" cy="507.0" r="9.2" fill="#cbcfd2" stroke="#3e4750" stroke-width="2.1"/>
<circle cx="741.8" cy="507.0" r="9.2" fill="#cbcfd2" stroke="#3e4750" stroke-width="2.1"/>
<circle cx="733.0" cy="398.2" r="9.2" fill="#4d8ec8" stroke="#2f5a7a" stroke-width="2.1"/>
<circle cx="688.2" cy="449.7" r="9.2" fill="#4d8ec8" stroke="#2f5a7a" stroke-width="2.1"/>
<text x="0" y="0" transform="translate(171.1,229.7) scale(0.947,1)" font-family="Liberation Sans" font-size="17.8" fill="#23272b" stroke="#23272b" stroke-width="0.32">Vowel Harmony</text>
<text x="0" y="0" transform="translate(413.2,70.8) scale(0.965,1)" font-family="Liberation Sans" font-size="16.7" fill="#23272b" stroke="#23272b" stroke-width="0.32">PHONOLOGY RESEARCH</text>
<text x="0" y="0" transform="translate(438.5,411.6) scale(0.883,1)" font-family="Liberation Sans" font-size="17.5" fill="#23272b" stroke="#23272b" stroke-width="0.32">PHONETIC SYMBOLS</text>
<text x="0" y="0" transform="translate(740.8,230.2) scale(1.029,1)" font-family="Liberation Sans" font-size="18.8" fill="#23272b" stroke="#23272b" stroke-width="0.32">Assimilation</text>
<text x="0" y="0" transform="translate(231.6,367.4) scale(1.064,1)" font-family="Liberation Sans" font-size="16.5" fill="#23272b" stroke="#23272b" stroke-width="0.32">Assimilation</text>
<text x="0" y="0" transform="translate(345.2,444.3) scale(1.010,1)" font-family="Liberation Sans" font-size="17" fill="#23272b" stroke="#23272b" stroke-width="0.32">Syllable</text>
<text x="0" y="0" transform="translate(345.2,462.0) scale(1.024,1)" font-family="Liberation Sans" font-size="17" fill="#23272b" stroke="#23272b" stroke-width="0.32">Structure</text>
<text x="0" y="0" transform="translate(712.1,447.9) scale(1.000,1)" font-family="Liberation Sans" font-size="17" fill="#23272b" stroke="#23272b" stroke-width="0.32">Syllable</text>
<text x="0" y="0" transform="translate(712.1,465.5) scale(1.019,1)" font-family="Liberation Sans" font-size="17" fill="#23272b" stroke="#23272b" stroke-width="0.32">Structure</text>
<text x="0" y="0" transform="translate(583.2,450.3) scale(0.872,1)" font-family="Liberation Sans" font-size="16.8" fill="#23272b" stroke="#23272b" stroke-width="0.32">LINGUISTIC</text>
<text x="0" y="0" transform="translate(583.2,467.1) scale(0.890,1)" font-family="Liberation Sans" font-size="16.8" fill="#23272b" stroke="#23272b" stroke-width="0.32">PATTERNS</text>
</svg>
</body></html>
